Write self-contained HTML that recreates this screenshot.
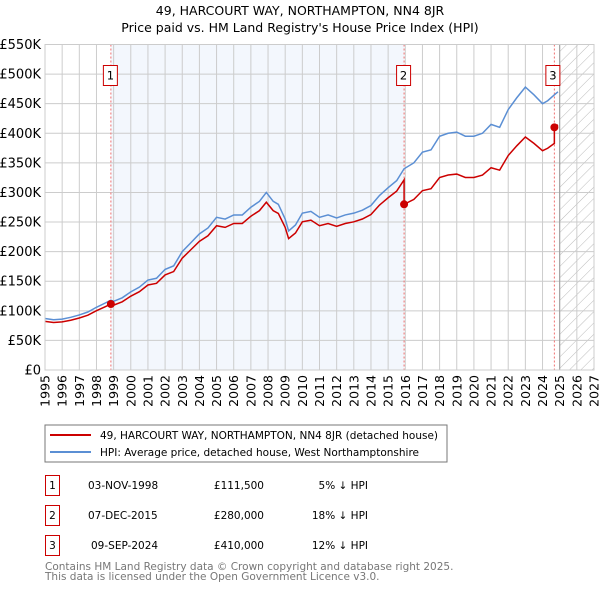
<!DOCTYPE html>
<html><head><meta charset="utf-8"><style>
body{margin:0;background:#fff}
svg{display:block;font-family:"DejaVu Sans","Liberation Sans",sans-serif}
</style></head><body>
<svg id="chart" width="600" height="590" viewBox="0 0 600 590">
<defs><pattern id="hatch" width="8" height="8" patternUnits="userSpaceOnUse" patternTransform="rotate(45)"><line x1="0" y1="0" x2="0" y2="8" stroke="#bbb" stroke-width="1"/></pattern></defs>
<text x="300" y="15" text-anchor="middle" font-size="12.5">49, HARCOURT WAY, NORTHAMPTON, NN4 8JR</text>
<text x="300" y="32" text-anchor="middle" font-size="12.5">Price paid vs. HM Land Registry's House Price Index (HPI)</text>
<g id="plot"></g>
<rect x="45" y="425" width="402" height="37" fill="#fff" stroke="#777"/>
<line x1="50" y1="435" x2="91" y2="435" stroke="#cc0000" stroke-width="2"/>
<text x="100" y="439" font-size="10.5">49, HARCOURT WAY, NORTHAMPTON, NN4 8JR (detached house)</text>
<line x1="50" y1="452" x2="91" y2="452" stroke="#5b8fd4" stroke-width="2"/>
<text x="100" y="456" font-size="10.5">HPI: Average price, detached house, West Northamptonshire</text>
<g font-size="10.5">
<rect x="45.5" y="475.5" width="14" height="20" fill="none" stroke="#cc0000"/>
<text x="52.5" y="489" text-anchor="middle">1</text>
<text x="88" y="489">03-NOV-1998</text>
<text x="264" y="489" text-anchor="end">£111,500</text>
<text x="368" y="489" text-anchor="end">5% ↓ HPI</text>
<rect x="45.5" y="505.5" width="14" height="20" fill="none" stroke="#cc0000"/>
<text x="52.5" y="519" text-anchor="middle">2</text>
<text x="88" y="519">07-DEC-2015</text>
<text x="264" y="519" text-anchor="end">£280,000</text>
<text x="368" y="519" text-anchor="end">18% ↓ HPI</text>
<rect x="45.5" y="535.5" width="14" height="20" fill="none" stroke="#cc0000"/>
<text x="52.5" y="549" text-anchor="middle">3</text>
<text x="91" y="549">09-SEP-2024</text>
<text x="264" y="549" text-anchor="end">£410,000</text>
<text x="368" y="549" text-anchor="end">12% ↓ HPI</text>
</g>
<text x="45" y="570" font-size="10.5" fill="#777">Contains HM Land Registry data © Crown copyright and database right 2025.</text>
<text x="45" y="580" font-size="10.5" fill="#777">This data is licensed under the Open Government Licence v3.0.</text>
</svg>
<script>
const hpiYears=[1995,1995.5,1996,1996.5,1997,1997.5,1998,1998.5,1998.84,1999,1999.5,2000,2000.5,2001,2001.5,2002,2002.5,2003,2003.5,2004,2004.5,2005,2005.5,2006,2006.5,2007,2007.5,2007.9,2008.3,2008.6,2009,2009.2,2009.6,2010,2010.5,2011,2011.5,2012,2012.5,2013,2013.5,2014,2014.5,2015,2015.5,2015.93,2016.5,2017,2017.5,2018,2018.5,2019,2019.5,2020,2020.5,2021,2021.5,2022,2022.5,2023,2023.5,2024,2024.3,2024.69,2024.9];
const hpiValues=[87,85,86,89,93,98,106,113,118,116,122,132,140,152,155,170,176,200,215,230,240,258,255,262,262,275,285,300,285,280,255,235,245,265,268,258,262,257,262,265,270,278,295,308,320,340,350,368,372,395,400,402,395,395,400,415,410,440,460,478,465,450,455,465,470];
const saleYears=[1998.84,2015.93,2024.69];
const salePrices=[111.5,280,410];
const yTicks=[0,50,100,150,200,250,300,350,400,450,500,550];
const yTickLabels=["£0","£50K","£100K","£150K","£200K","£250K","£300K","£350K","£400K","£450K","£500K","£550K"];
const xTicks=[1995,1996,1997,1998,1999,2000,2001,2002,2003,2004,2005,2006,2007,2008,2009,2010,2011,2012,2013,2014,2015,2016,2017,2018,2019,2020,2021,2022,2023,2024,2025,2026,2027];
const NS="http://www.w3.org/2000/svg";
const L=45,R=594,T=44.5,B=370;
const X=y=>L+(y-1995)/(2027-1995)*(R-L);
const Y=v=>B-v/550*(B-T);
const g=document.getElementById('plot');
function mk(tag,attrs,parent){const e=document.createElementNS(NS,tag);for(const k in attrs)e.setAttribute(k,attrs[k]);(parent||g).appendChild(e);return e;}
function hpiAt(t){for(let i=0;i<hpiYears.length-1;i++){if(t>=hpiYears[i]&&t<=hpiYears[i+1]){const f=(t-hpiYears[i])/(hpiYears[i+1]-hpiYears[i]);return hpiValues[i]+f*(hpiValues[i+1]-hpiValues[i]);}}return hpiValues[hpiValues.length-1];}
let e;
e=mk('rect',{x:X(saleYears[0]),y:T,width:X(saleYears[1])-X(saleYears[0]),height:B-T,fill:'#eef3fc',opacity:0.7});


e=mk('rect',{x:X(2025),y:T,width:R-X(2025),height:B-T,fill:'url(#hatch)'});


yTicks.forEach((v,i)=>{
 e=mk('line',{x1:L,x2:R,y1:Y(v),y2:Y(v),stroke:'#ccc'});
 
 
 e=mk('text',{x:L-4,y:Y(v)+4.5,'text-anchor':'end','font-size':'13'});
 e.textContent=yTickLabels[i];
 
 
});
xTicks.forEach(t=>{
 e=mk('line',{x1:X(t),x2:X(t),y1:T,y2:B,stroke:'#ccc'});
 
 
 e=mk('text',{x:X(t)+4.5,y:B+5,'text-anchor':'end','font-size':'12.5',transform:`rotate(-90 ${X(t)+4.5} ${B+5})`});
 e.textContent=t;
 
 
});
e=mk('line',{x1:X(2025),x2:X(2025),y1:T,y2:B,stroke:'#999'});


const ratios=saleYears.map((s,i)=>salePrices[i]/hpiAt(s));
function ratioAt(t){let r=ratios[0];for(let i=0;i<saleYears.length;i++)if(t>=saleYears[i])r=ratios[i];return r;}
let pts=[];
const allT=[...new Set([...hpiYears,...saleYears])].sort((a,b)=>a-b);
allT.forEach(t=>{
 saleYears.forEach((s,i)=>{if(Math.abs(t-s)<1e-9&&i>0)pts.push([X(t),Y(hpiAt(t)*ratios[i-1])]);});
 pts.push([X(t),Y(hpiAt(t)*ratioAt(t))]);
});
saleYears.forEach((s,i)=>{
 e=mk('line',{x1:X(s),x2:X(s),y1:T,y2:B,stroke:'#f07070','stroke-dasharray':'2,2'});
 
 
});
e=mk('polyline',{points:hpiYears.map((t,i)=>X(t)+','+Y(hpiValues[i])).join(' '),fill:'none',stroke:'#5b8fd4','stroke-width':1.5});


e=mk('polyline',{points:pts.map(p=>p.join(',')).join(' '),fill:'none',stroke:'#cc0000','stroke-width':1.5});


saleYears.forEach((s,i)=>{
 e=mk('circle',{cx:X(s),cy:Y(salePrices[i]),r:4,fill:'#cc0000'});
 
 
 const bx=X(s)-7-(i==2?1:0);
 e=mk('rect',{x:bx-0.5,y:65.5,width:14,height:20,fill:'#fff',stroke:'#cc0000'});
 
 
 e=mk('text',{x:bx+6.5,y:79.5,'text-anchor':'middle','font-size':'11.5'});
 e.textContent=String(i+1);
 
 
});
e=mk('rect',{x:L,y:T,width:R-L,height:B-T,fill:'none',stroke:'#ccc'});


</script>
</body></html>
